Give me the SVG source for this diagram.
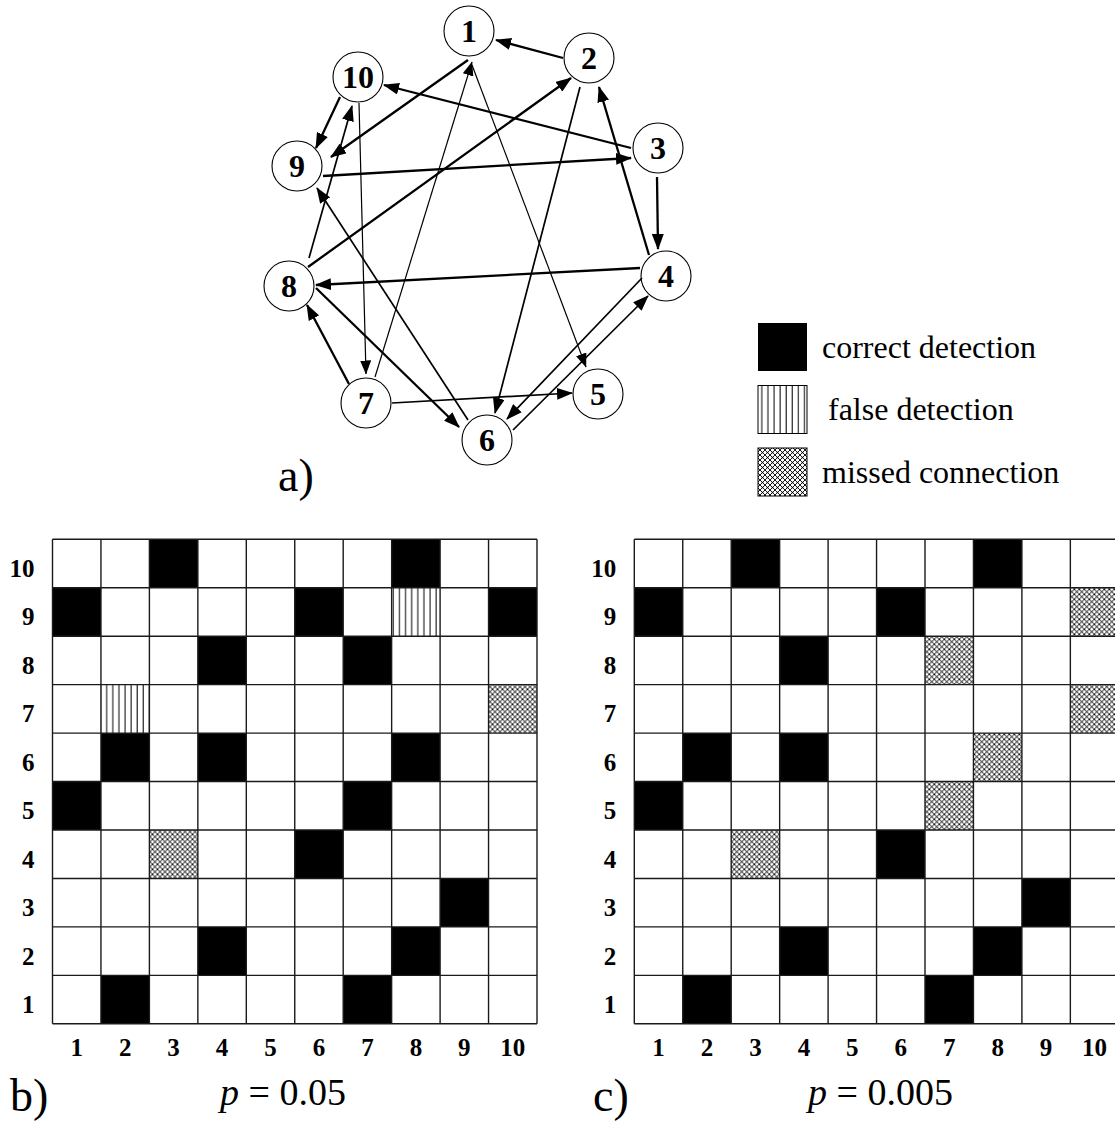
<svg xmlns="http://www.w3.org/2000/svg" width="1115" height="1123" viewBox="0 0 1115 1123">
<style>
  .node circle { fill: #fff; stroke: #000; stroke-width: 1.1; }
  .node text { font-family: "Liberation Serif", "Times New Roman", serif; font-weight: bold; font-size: 32px; text-anchor: middle; fill: #000; }
  .edge { stroke: #000; fill: none; }
  .thick { stroke-width: 2.3; marker-end: url(#ahL); }
  .med { stroke-width: 1.7; marker-end: url(#ahL); }
  .thin { stroke-width: 1.2; marker-end: url(#ahS); }
  .lbl { font-family: "Liberation Serif", "Times New Roman", serif; fill: #000; }
  .ax { font-family: "Liberation Serif", "Times New Roman", serif; font-weight: bold; font-size: 25px; fill: #000; }
  .ax.r { text-anchor: end; }
  .ax.c { text-anchor: middle; }
  .blk { fill: #000; }
  .fal { fill: url(#vhatch); }
  .mis { fill: url(#xhatch); }
  .gl { fill: none; stroke: #1a1a1a; stroke-width: 1.4; }
</style>
<defs>
  <marker id="ahL" markerWidth="16" markerHeight="12" refX="15" refY="6" orient="auto" markerUnits="userSpaceOnUse">
    <path d="M0,0 L16,6 L0,12 z" fill="#000"/>
  </marker>
  <marker id="ahS" markerWidth="14" markerHeight="11" refX="13.5" refY="5.5" orient="auto" markerUnits="userSpaceOnUse">
    <path d="M0,0 L14,5.5 L0,11 z" fill="#000"/>
  </marker>
  <pattern id="vhatch" patternUnits="userSpaceOnUse" width="6.1" height="10">
    <rect width="6.1" height="10" fill="#fff"/>
    <line x1="5.4" y1="0" x2="5.4" y2="10" stroke="#000" stroke-width="1"/>
  </pattern>
  <pattern id="xhatch" patternUnits="userSpaceOnUse" width="5" height="5">
    <rect width="5" height="5" fill="#fff"/>
    <path d="M0,0 L5,5 M5,0 L0,5" stroke="#000" stroke-width="0.9"/>
    <circle cx="2.5" cy="2.5" r="0.8" fill="#000"/>
  </pattern>
</defs>
<rect width="1115" height="1123" fill="#fff"/>

<!-- Graph a) nodes -->
<g id="node-1" class="node"><circle cx="469" cy="31" r="25"/><text x="469" y="42">1</text></g>
<g id="node-2" class="node"><circle cx="589" cy="58" r="25"/><text x="589" y="69">2</text></g>
<g id="node-3" class="node"><circle cx="658" cy="148" r="25"/><text x="658" y="159">3</text></g>
<g id="node-4" class="node"><circle cx="666" cy="276" r="25"/><text x="666" y="287">4</text></g>
<g id="node-5" class="node"><circle cx="598" cy="394" r="25"/><text x="598" y="405">5</text></g>
<g id="node-6" class="node"><circle cx="487" cy="440" r="25"/><text x="487" y="451">6</text></g>
<g id="node-7" class="node"><circle cx="366" cy="403" r="25"/><text x="366" y="414">7</text></g>
<g id="node-8" class="node"><circle cx="289" cy="286" r="25"/><text x="289" y="297">8</text></g>
<g id="node-9" class="node"><circle cx="297" cy="166" r="25"/><text x="297" y="177">9</text></g>
<g id="node-10" class="node"><circle cx="358" cy="77" r="25"/><text x="358" y="88">10</text></g>

<!-- connectors -->
<g id="connectors">
  <line class="edge thick" x1="563" y1="58" x2="496" y2="40"/>
  <line class="edge thick" x1="340" y1="97" x2="316" y2="148"/>
  <line class="edge med" x1="309" y1="258" x2="352" y2="106"/>
  <line class="edge thick" x1="468" y1="60" x2="331" y2="157"/>
  <line class="edge thin" x1="359" y1="103" x2="366" y2="374"/>
  <line class="edge thin" x1="375" y1="377" x2="472" y2="62"/>
  <line class="edge thin" x1="472" y1="65" x2="586" y2="367"/>
  <line class="edge thick" x1="308" y1="267" x2="571" y2="78"/>
  <line class="edge thick" x1="631" y1="148" x2="384" y2="85"/>
  <line class="edge thick" x1="323" y1="176" x2="631" y2="158"/>
  <line class="edge med" x1="580" y1="87" x2="495" y2="413"/>
  <line class="edge thick" x1="649" y1="255" x2="599" y2="87"/>
  <line class="edge thick" x1="657" y1="177" x2="658" y2="249"/>
  <line class="edge thick" x1="640" y1="268" x2="316" y2="285"/>
  <line class="edge med" x1="468" y1="420" x2="317" y2="188"/>
  <line class="edge thick" x1="316" y1="288" x2="459" y2="427"/>
  <line class="edge thick" x1="349" y1="384" x2="307" y2="305"/>
  <line class="edge med" x1="392" y1="403" x2="572" y2="393"/>
  <line class="edge med" x1="642" y1="278" x2="507" y2="419"/>
  <line class="edge med" x1="513" y1="430" x2="648" y2="296"/>
</g>

<text class="lbl" x="278" y="491" font-size="46">a)</text>

<!-- Legend -->
<g id="legend">
  <rect x="758" y="323" width="49" height="48" fill="#000"/>
  <rect x="758" y="385.5" width="49" height="48" fill="url(#vhatch)" stroke="#000" stroke-width="1"/>
  <rect x="758" y="448" width="49" height="48" fill="url(#xhatch)" stroke="#000" stroke-width="1"/>
  <text class="lbl" x="822" y="358" font-size="32">correct detection</text>
  <text class="lbl" x="828" y="420" font-size="32">false detection</text>
  <text class="lbl" x="822" y="483" font-size="32">missed connection</text>
</g>

<!-- Matrix b) -->
<g id="matrix-b" transform="translate(52.5,539.3)">
  <rect width="484.5" height="484.5" fill="#fff"/>
  <rect class="blk" x="96.9" y="0" width="48.45" height="48.45"/>
  <rect class="blk" x="339.15" y="0" width="48.45" height="48.45"/>
  <rect class="blk" x="0" y="48.45" width="48.45" height="48.45"/>
  <rect class="blk" x="242.25" y="48.45" width="48.45" height="48.45"/>
  <rect class="blk" x="436.05" y="48.45" width="48.45" height="48.45"/>
  <rect class="fal" x="339.15" y="48.45" width="48.45" height="48.45"/>
  <rect class="blk" x="145.35" y="96.9" width="48.45" height="48.45"/>
  <rect class="blk" x="290.7" y="96.9" width="48.45" height="48.45"/>
  <rect class="fal" x="48.45" y="145.35" width="48.45" height="48.45"/>
  <rect class="mis" x="436.05" y="145.35" width="48.45" height="48.45"/>
  <rect class="blk" x="48.45" y="193.8" width="48.45" height="48.45"/>
  <rect class="blk" x="145.35" y="193.8" width="48.45" height="48.45"/>
  <rect class="blk" x="339.15" y="193.8" width="48.45" height="48.45"/>
  <rect class="blk" x="0" y="242.25" width="48.45" height="48.45"/>
  <rect class="blk" x="290.7" y="242.25" width="48.45" height="48.45"/>
  <rect class="mis" x="96.9" y="290.7" width="48.45" height="48.45"/>
  <rect class="blk" x="242.25" y="290.7" width="48.45" height="48.45"/>
  <rect class="blk" x="387.6" y="339.15" width="48.45" height="48.45"/>
  <rect class="blk" x="145.35" y="387.6" width="48.45" height="48.45"/>
  <rect class="blk" x="339.15" y="387.6" width="48.45" height="48.45"/>
  <rect class="blk" x="48.45" y="436.05" width="48.45" height="48.45"/>
  <rect class="blk" x="290.7" y="436.05" width="48.45" height="48.45"/>
  <path class="gl" d="M0,0V484.5M48.45,0V484.5M96.9,0V484.5M145.35,0V484.5M193.8,0V484.5M242.25,0V484.5M290.7,0V484.5M339.15,0V484.5M387.6,0V484.5M436.05,0V484.5M484.5,0V484.5M0,0H484.5M0,48.45H484.5M0,96.9H484.5M0,145.35H484.5M0,193.8H484.5M0,242.25H484.5M0,290.7H484.5M0,339.15H484.5M0,387.6H484.5M0,436.05H484.5M0,484.5H484.5"/>
  <g class="ax r">
    <text x="-18" y="37.7">10</text><text x="-18" y="86.2">9</text><text x="-18" y="134.6">8</text><text x="-18" y="183.1">7</text><text x="-18" y="231.5">6</text><text x="-18" y="280">5</text><text x="-18" y="328.4">4</text><text x="-18" y="376.9">3</text><text x="-18" y="425.3">2</text><text x="-18" y="473.8">1</text>
  </g>
  <g class="ax c">
    <text x="24.2" y="516.7">1</text><text x="72.7" y="516.7">2</text><text x="121.1" y="516.7">3</text><text x="169.6" y="516.7">4</text><text x="218" y="516.7">5</text><text x="266.5" y="516.7">6</text><text x="314.9" y="516.7">7</text><text x="363.4" y="516.7">8</text><text x="411.8" y="516.7">9</text><text x="460.3" y="516.7">10</text>
  </g>
</g>
<text class="lbl" x="10" y="1111" font-size="46">b)</text>
<text class="lbl" x="220" y="1105" font-size="38"><tspan font-style="italic">p</tspan> = 0.05</text>

<!-- Matrix c) -->
<g id="matrix-c" transform="translate(634.3,539.3)">
  <rect width="484.5" height="484.5" fill="#fff"/>
  <rect class="blk" x="96.9" y="0" width="48.45" height="48.45"/>
  <rect class="blk" x="339.15" y="0" width="48.45" height="48.45"/>
  <rect class="blk" x="0" y="48.45" width="48.45" height="48.45"/>
  <rect class="blk" x="242.25" y="48.45" width="48.45" height="48.45"/>
  <rect class="mis" x="436.05" y="48.45" width="48.45" height="48.45"/>
  <rect class="blk" x="145.35" y="96.9" width="48.45" height="48.45"/>
  <rect class="mis" x="290.7" y="96.9" width="48.45" height="48.45"/>
  <rect class="mis" x="436.05" y="145.35" width="48.45" height="48.45"/>
  <rect class="blk" x="48.45" y="193.8" width="48.45" height="48.45"/>
  <rect class="blk" x="145.35" y="193.8" width="48.45" height="48.45"/>
  <rect class="mis" x="339.15" y="193.8" width="48.45" height="48.45"/>
  <rect class="blk" x="0" y="242.25" width="48.45" height="48.45"/>
  <rect class="mis" x="290.7" y="242.25" width="48.45" height="48.45"/>
  <rect class="mis" x="96.9" y="290.7" width="48.45" height="48.45"/>
  <rect class="blk" x="242.25" y="290.7" width="48.45" height="48.45"/>
  <rect class="blk" x="387.6" y="339.15" width="48.45" height="48.45"/>
  <rect class="blk" x="145.35" y="387.6" width="48.45" height="48.45"/>
  <rect class="blk" x="339.15" y="387.6" width="48.45" height="48.45"/>
  <rect class="blk" x="48.45" y="436.05" width="48.45" height="48.45"/>
  <rect class="blk" x="290.7" y="436.05" width="48.45" height="48.45"/>
  <path class="gl" d="M0,0V484.5M48.45,0V484.5M96.9,0V484.5M145.35,0V484.5M193.8,0V484.5M242.25,0V484.5M290.7,0V484.5M339.15,0V484.5M387.6,0V484.5M436.05,0V484.5M484.5,0V484.5M0,0H484.5M0,48.45H484.5M0,96.9H484.5M0,145.35H484.5M0,193.8H484.5M0,242.25H484.5M0,290.7H484.5M0,339.15H484.5M0,387.6H484.5M0,436.05H484.5M0,484.5H484.5"/>
  <g class="ax r">
    <text x="-18" y="37.7">10</text><text x="-18" y="86.2">9</text><text x="-18" y="134.6">8</text><text x="-18" y="183.1">7</text><text x="-18" y="231.5">6</text><text x="-18" y="280">5</text><text x="-18" y="328.4">4</text><text x="-18" y="376.9">3</text><text x="-18" y="425.3">2</text><text x="-18" y="473.8">1</text>
  </g>
  <g class="ax c">
    <text x="24.2" y="516.7">1</text><text x="72.7" y="516.7">2</text><text x="121.1" y="516.7">3</text><text x="169.6" y="516.7">4</text><text x="218" y="516.7">5</text><text x="266.5" y="516.7">6</text><text x="314.9" y="516.7">7</text><text x="363.4" y="516.7">8</text><text x="411.8" y="516.7">9</text><text x="460.3" y="516.7">10</text>
  </g>
</g>
<text class="lbl" x="593" y="1111" font-size="46">c)</text>
<text class="lbl" x="808" y="1105" font-size="38"><tspan font-style="italic">p</tspan> = 0.005</text>
</svg>
